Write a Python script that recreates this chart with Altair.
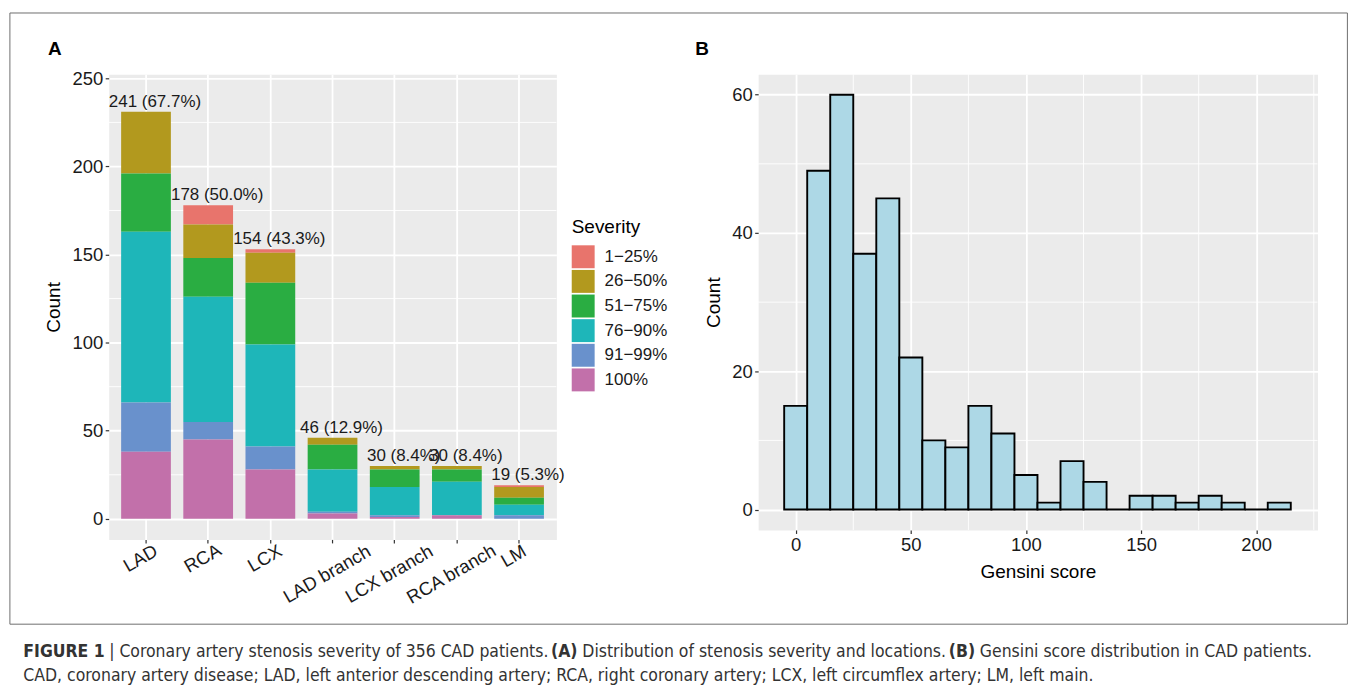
import altair as alt
import pandas as pd

# ---------------- data (panel A) ----------------
locations = ["LAD", "RCA", "LCX", "LAD branch", "LCX branch", "RCA branch", "LM"]
severities = ["1−25%", "26−50%", "51−75%", "76−90%", "91−99%", "100%"]
sev_colors = ["#E8746C", "#B2991E", "#2AAD42", "#1EB6B9", "#6991CC", "#C270AA"]
counts_1_25 = [0, 11, 2, 0, 0, 0, 1]
counts_26_50 = [35, 19, 17, 4, 2, 2, 6]
counts_51_75 = [33, 22, 35, 14, 10, 7, 4]
counts_76_90 = [97, 71, 58, 24, 16, 19, 6]
counts_91_99 = [28, 10, 13, 1, 1, 0, 2]
counts_100 = [38, 45, 28, 3, 1, 2, 0]
bar_labels = ["241 (67.7%)", "178 (50.0%)", "154 (43.3%)", "46 (12.9%)",
              "30 (8.4%)", "30 (8.4%)", "19 (5.3%)"]
left_y_ticks = [0, 50, 100, 150, 200, 250]
left_y_minor = [25, 75, 125, 175, 225]

# ---------------- data (panel B) ----------------
gensini_bin_centers = [0, 10, 20, 30, 40, 50, 60, 70, 80, 90, 100, 110,
                       120, 130, 140, 150, 160, 170, 180, 190, 200, 210]
gensini_counts = [15, 49, 60, 37, 45, 22, 10, 9, 15, 11, 5, 1,
                  7, 4, 0, 2, 2, 1, 2, 1, 0, 1]
bin_width = 10
right_x_ticks = [0, 50, 100, 150, 200]
right_x_minor = [25, 75, 125, 175, 225]
right_y_ticks = [0, 20, 40, 60]
right_y_minor = [10, 30, 50]

caption_line1 = [("FIGURE 1", True), ("| Coronary artery stenosis severity of 356 CAD patients.", False),
                 ("(A)", True), ("Distribution of stenosis severity and locations.", False),
                 ("(B)", True), ("Gensini score distribution in CAD patients.", False)]
caption_line2 = ("CAD, coronary artery disease; LAD, left anterior descending artery; RCA, right coronary "
                 "artery; LCX, left circumflex artery; LM, left main.")

# ---------------- tables ----------------
series = [counts_1_25, counts_26_50, counts_51_75, counts_76_90, counts_91_99, counts_100]
rows = []
for si, (sev, vals) in enumerate(zip(severities, series)):
    for loc, v in zip(locations, vals):
        if v > 0:
            rows.append({"location": loc, "severity": sev, "count": v, "rank": len(severities) - si})
df_bars = pd.DataFrame(rows)
totals = [sum(s[i] for s in series) for i in range(len(locations))]
df_labels = pd.DataFrame({"location": locations, "total": totals, "label": bar_labels})
df_left_minor = pd.DataFrame({"v": left_y_minor})

df_hist = pd.DataFrame({"center": gensini_bin_centers, "count": gensini_counts})
df_rxm = pd.DataFrame({"v": right_x_minor})
df_rym = pd.DataFrame({"v": right_y_minor})
one = pd.DataFrame({"k": [0]})

FONT = "Liberation Sans"
CAPFONT = "DejaVu Sans Condensed"
W1, H1 = 449, 466.5
W2, H2 = 561, 457
OX, OY = 107.6, 72.5  # page origin of panel A plot area
OX2 = 759

# ---- approximate advance widths (em) of DejaVu Sans, used to lay out the caption runs ----
BOOK = {" ": .318, "(": .390, ")": .390, ",": .318, ".": .318, ";": .337, "|": .337,
        "A": .684, "B": .686, "C": .698, "D": .770, "E": .632, "F": .575, "G": .775, "I": .295,
        "L": .557, "M": .863, "R": .695, "U": .732, "X": .685,
        "a": .613, "b": .635, "c": .550, "d": .635, "e": .615, "f": .352, "g": .635, "h": .634,
        "i": .278, "l": .278, "m": .974, "n": .634, "o": .612, "p": .635, "r": .411, "s": .521,
        "t": .392, "u": .634, "v": .592, "x": .592, "y": .592}
for dgt in "0123456789":
    BOOK[dgt] = .636
BOLD = {" ": .348, "(": .457, ")": .457, "1": .696, "F": .683, "I": .372, "G": .821, "U": .812,
        "R": .770, "E": .683, "A": .774, "B": .762}


def em(s, bold=False):
    tab = BOLD if bold else BOOK
    return sum(tab.get(ch, BOOK.get(ch, .6)) for ch in s)


COND = 978 / (em(caption_line2) * 16)          # condensed factor, from a 16px trial render
line1_em = sum(em(t, b) for t, b in caption_line1) + BOOK[" "] * (len(caption_line1) - 1)
CAPSIZE = min(17.5, 1316 / (COND * line1_em))

# ---------------- panel A ----------------
yL = alt.Scale(domain=[-11.7, 252.3], nice=False, zero=False)
xL = alt.Scale(domain=locations, paddingInner=0.2, paddingOuter=0.2)
yL_axis = alt.Axis(title="Count", values=left_y_ticks, grid=True, titlePadding=8, labelPadding=2.5)
xL_axis = alt.Axis(title=None, labels=False, grid=True)

minorL = alt.Chart(df_left_minor).mark_rule(color="white", strokeWidth=0.9).encode(
    y=alt.Y("v:Q", scale=yL, axis=yL_axis)
)
bars = alt.Chart(df_bars).mark_bar().encode(
    x=alt.X("location:N", sort=locations, scale=xL, axis=xL_axis),
    y=alt.Y("count:Q", stack="zero", scale=yL, axis=yL_axis),
    color=alt.Color("severity:N", scale=alt.Scale(domain=severities, range=sev_colors),
                    legend=alt.Legend(title="Severity", orient="none", legendX=464.4, legendY=144.5,
                                      symbolType="square", symbolSize=529, symbolStrokeWidth=0,
                                      labelFontSize=17, titleFontSize=19, titleFontWeight="normal",
                                      labelOffset=10, rowPadding=1.7, titlePadding=8, padding=0,
                                      labelFont=FONT, titleFont=FONT, labelColor="#1a1a1a",
                                      titleColor="#000000")),
    order=alt.Order("rank:Q", sort="ascending"),
)
labels = alt.Chart(df_labels).mark_text(font=FONT, fontSize=17, baseline="alphabetic",
                                        dx=9, dy=-5, color="#1a1a1a").encode(
    x=alt.X("location:N", sort=locations, scale=xL, axis=xL_axis),
    y=alt.Y("total:Q", scale=yL, axis=yL_axis),
    text="label:N",
)
# category labels rotated 30 degrees: bounding box centred under each tick, tops aligned
GY = "(0.275 + 2.25*length(datum.location))"
xcat = alt.Chart(df_labels).mark_text(font=FONT, fontSize=18.5, angle=330, align="center",
                                      baseline="middle", color="#1a1a1a",
                                      dx=alt.expr(f"-4.76 - 0.5*{GY}"),
                                      dy=alt.expr(f"-2.75 + 0.866*{GY}")).encode(
    x=alt.X("location:N", sort=locations, scale=xL, axis=xL_axis),
    y=alt.value(551 - OY),
    text="location:N",
)
letterA = alt.Chart(one).mark_text(text="A", font=FONT, fontSize=19, fontWeight="bold",
                                   align="left", baseline="alphabetic", color="black").encode(
    x=alt.value(46.7 - OX), y=alt.value(52.7 - OY))
border = alt.Chart(one).mark_rect(fillOpacity=0, stroke="#6e6e6e", strokeWidth=1).encode(
    x=alt.value(-99.1), x2=alt.value(1350 - OX), y=alt.value(11 - OY), y2=alt.value(624 - OY))

cap_layers = []
cx = 22.0
for txt, bold in caption_line1:
    cap_layers.append(
        alt.Chart(one).mark_text(text=txt, font=CAPFONT, fontSize=CAPSIZE,
                                 fontWeight="bold" if bold else "normal", align="left",
                                 baseline="alphabetic", color="#333333").encode(
            x=alt.value(cx - OX), y=alt.value(656.5 - OY)))
    cx += (em(txt, bold) + BOOK[" "]) * COND * CAPSIZE
cap_layers.append(
    alt.Chart(one).mark_text(text=caption_line2, font=CAPFONT, fontSize=CAPSIZE,
                             align="left", baseline="alphabetic", color="#333333").encode(
        x=alt.value(22 - OX), y=alt.value(680.5 - OY)))

left = alt.layer(minorL, bars, labels, xcat, letterA, border, *cap_layers).properties(width=W1, height=H1)

# ---------------- panel B ----------------
xR = alt.Scale(domain=[-16.3, 226.6], nice=False, zero=False)
yR = alt.Scale(domain=[-2.95, 62.95], nice=False, zero=False)
xR_axis = alt.Axis(title="Gensini score", values=right_x_ticks, grid=True, titlePadding=8, labelPadding=2.5)
yR_axis = alt.Axis(title="Count", values=right_y_ticks, grid=True, titlePadding=8, labelPadding=2.5)

minorRx = alt.Chart(df_rxm).mark_rule(color="white", strokeWidth=0.9).encode(
    x=alt.X("v:Q", scale=xR, axis=xR_axis))
minorRy = alt.Chart(df_rym).mark_rule(color="white", strokeWidth=0.9).encode(
    y=alt.Y("v:Q", scale=yR, axis=yR_axis))
hist = alt.Chart(df_hist).transform_calculate(
    lo=f"datum.center - {bin_width}/2", hi=f"datum.center + {bin_width}/2", base="0"
).mark_rect(fill="#ADD8E6", stroke="black", strokeWidth=1.9).encode(
    x=alt.X("lo:Q", scale=xR, axis=xR_axis), x2="hi:Q",
    y=alt.Y("count:Q", scale=yR, axis=yR_axis), y2="base:Q")
letterB = alt.Chart(one).mark_text(text="B", font=FONT, fontSize=19, fontWeight="bold",
                                   align="left", baseline="alphabetic", color="black").encode(
    x=alt.value(696 - OX2), y=alt.value(52.7 - OY))
right = alt.layer(minorRx, minorRy, hist, letterB).properties(width=W2, height=H2)

chart = alt.hconcat(left, right, spacing=OX2 - OX - W1, bounds="flush").properties(
    padding={"left": 0, "top": 2.5, "right": 0, "bottom": 0}
).configure_axis(
    domain=False, tickColor="#333333", tickWidth=1.2, tickSize=3.5,
    labelFontSize=18.5, titleFontSize=19, titleFontWeight="normal",
    labelColor="#1a1a1a", titleColor="#000000", labelFont=FONT, titleFont=FONT,
    gridColor="white", gridWidth=1.8,
).configure_view(fill="#EBEBEB", stroke="transparent")

chart.save("out.html", embed_options={"renderer": "svg", "actions": False})
